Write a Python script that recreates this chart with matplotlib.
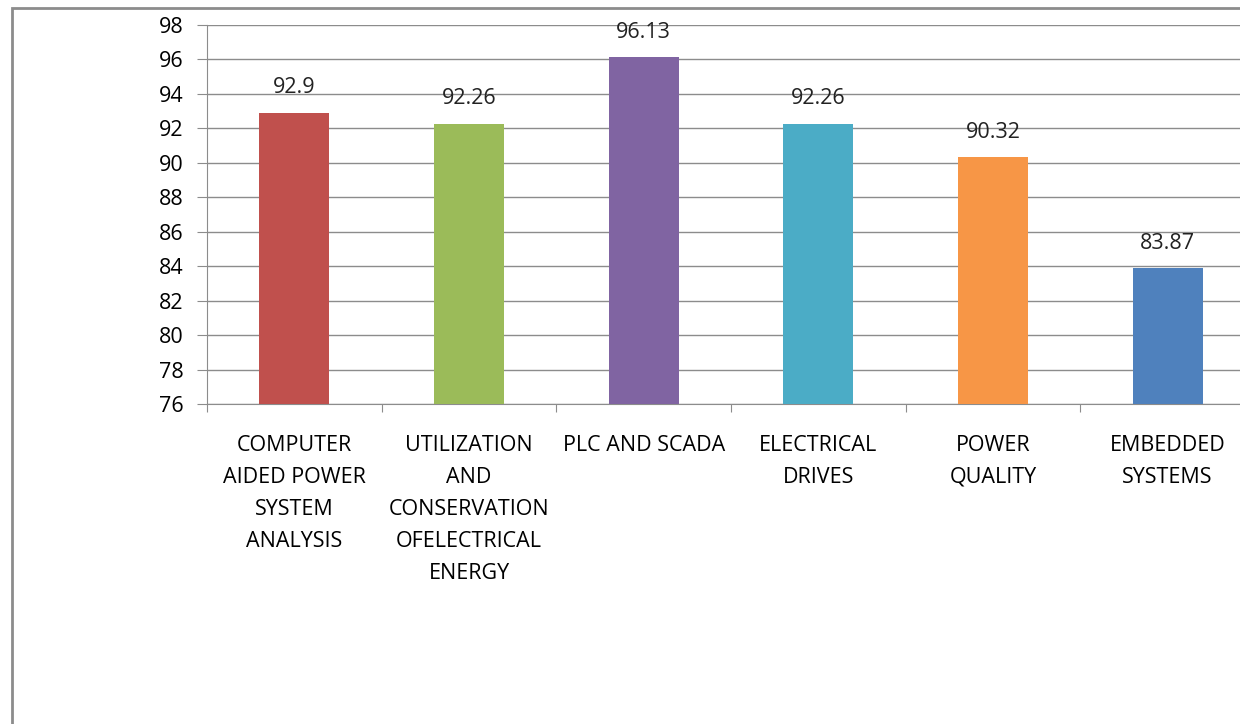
import numpy as np
import matplotlib
matplotlib.use("Agg")
import matplotlib.pyplot as plt
from matplotlib.patches import Rectangle

plt.rcParams['font.family'] = ['Open Sans', 'DejaVu Sans']

categories = ["COMPUTER\nAIDED POWER\nSYSTEM\nANALYSIS",
              "UTILIZATION\nAND\nCONSERVATION\nOFELECTRICAL\nENERGY",
              "PLC AND SCADA",
              "ELECTRICAL\nDRIVES",
              "POWER\nQUALITY",
              "EMBEDDED\nSYSTEMS"]
values = [92.9, 92.26, 96.13, 92.26, 90.32, 83.87]
value_labels = ["92.9", "92.26", "96.13", "92.26", "90.32", "83.87"]
colors = ["#C0504D", "#9BBB59", "#8064A2", "#4BACC6", "#F79646", "#4F81BD"]
yticks = np.arange(76, 99, 2)

fig = plt.figure(figsize=(12.4, 7.24), dpi=100)
# chart area border (partly outside the picture)
fig.patches.append(Rectangle((12/1240, -0.1), 1.2, 1 - 8/724 + 0.1,
                             transform=fig.transFigure, fill=False,
                             edgecolor="#8c8c8c", linewidth=2))

ax = fig.add_axes([207/1240, 1 - 404/724, (1255-207)/1240, (404-25)/724])
x = np.arange(len(values))
ax.bar(x, [v - 76 for v in values], bottom=76, width=0.4, color=colors, zorder=3)
for xi, v, lab in zip(x, values, value_labels):
    ax.text(xi, v + 0.85, lab, ha="center", va="bottom", fontsize=15.5, color="#222222")

ax.set_xlim(-0.5, len(values) - 0.5)
ax.set_ylim(76, 98)
ax.set_yticks(yticks)
ax.set_yticklabels([str(t) for t in yticks], fontsize=15.5)
ax.yaxis.grid(True, color="#8c8c8c", linewidth=1, zorder=0)
ax.set_xticks(np.arange(-0.5, len(values), 1))
ax.set_xticklabels([])
ax.set_xticks(x, minor=True)
ax.set_xticklabels(categories, minor=True, fontsize=15.5, linespacing=1.7,
                   va="top", ha="center")
ax.tick_params(axis="x", which="minor", length=0, pad=22)
ax.tick_params(axis="x", which="major", length=6, color="#8c8c8c")
ax.tick_params(axis="y", length=7, color="#8c8c8c", pad=10)
for s in ["top", "right"]:
    ax.spines[s].set_visible(False)
for s in ["left", "bottom"]:
    ax.spines[s].set_color("#8c8c8c")

fig.savefig("out.png", dpi=100)
